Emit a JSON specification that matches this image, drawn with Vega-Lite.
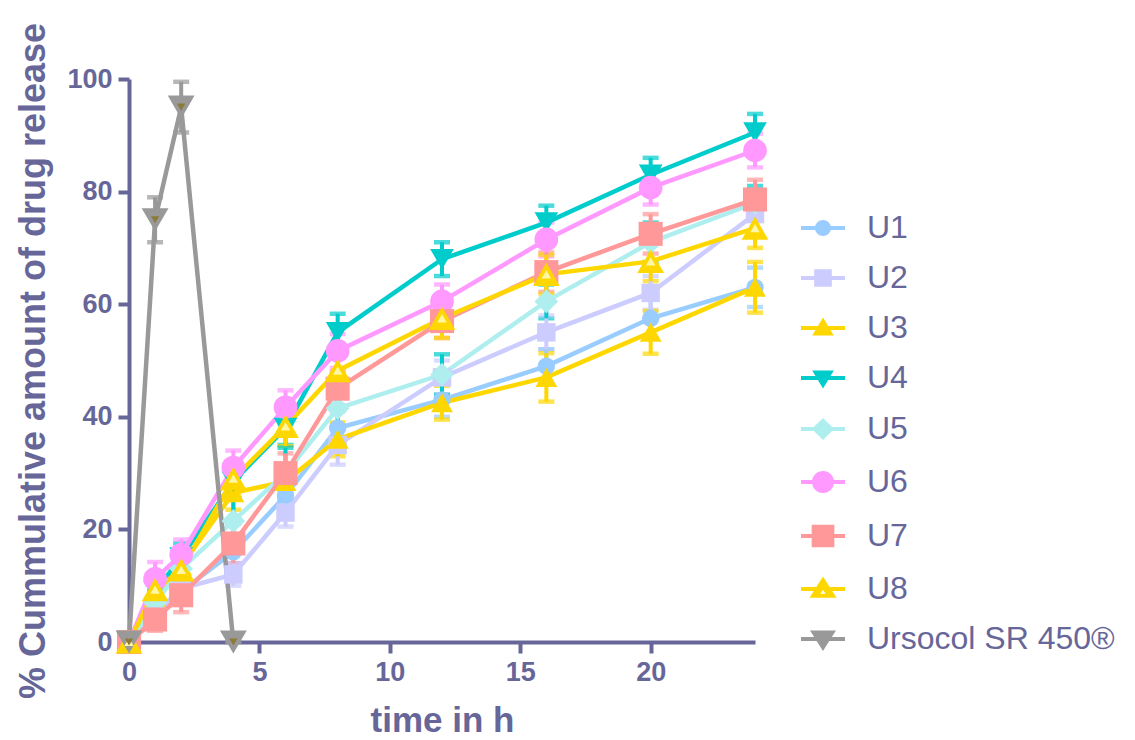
{
  "$schema": "https://vega.github.io/schema/vega-lite/v6.json",
  "width": 626,
  "height": 563,
  "autosize": {"type": "none"},
  "padding": {"left": 129, "top": 79, "right": 380, "bottom": 98},
  "background": "white",
  "config": {"view": {"stroke": null}, "font": "Liberation Sans"},
  "data": {"values": [
    {"series":"U1","t":0,"y":0,"sd":0},{"series":"U1","t":1,"y":4,"sd":1},{"series":"U1","t":2,"y":9,"sd":1.5},{"series":"U1","t":4,"y":16,"sd":2},{"series":"U1","t":6,"y":26,"sd":2.5},{"series":"U1","t":8,"y":38,"sd":3},{"series":"U1","t":12,"y":43,"sd":3},{"series":"U1","t":16,"y":49,"sd":3},{"series":"U1","t":20,"y":57.5,"sd":3.5},{"series":"U1","t":24,"y":63,"sd":3.5},
    {"series":"U2","t":0,"y":0,"sd":0},{"series":"U2","t":1,"y":5,"sd":1},{"series":"U2","t":2,"y":9.5,"sd":1.5},{"series":"U2","t":4,"y":12,"sd":2},{"series":"U2","t":6,"y":23,"sd":2.5},{"series":"U2","t":8,"y":35,"sd":3.5},{"series":"U2","t":12,"y":47,"sd":3},{"series":"U2","t":16,"y":55,"sd":3},{"series":"U2","t":20,"y":62,"sd":3},{"series":"U2","t":24,"y":76,"sd":3},
    {"series":"U3","t":0,"y":0,"sd":0},{"series":"U3","t":1,"y":8,"sd":2},{"series":"U3","t":2,"y":13.5,"sd":2},{"series":"U3","t":4,"y":26.5,"sd":3},{"series":"U3","t":6,"y":28.5,"sd":3},{"series":"U3","t":8,"y":36,"sd":3},{"series":"U3","t":12,"y":42.5,"sd":3},{"series":"U3","t":16,"y":47,"sd":4.3},{"series":"U3","t":20,"y":55,"sd":3.8},{"series":"U3","t":24,"y":63,"sd":4.5},
    {"series":"U4","t":0,"y":0,"sd":0},{"series":"U4","t":1,"y":9,"sd":2},{"series":"U4","t":2,"y":15,"sd":2.5},{"series":"U4","t":4,"y":28.5,"sd":3},{"series":"U4","t":6,"y":38,"sd":3},{"series":"U4","t":8,"y":55,"sd":3.3},{"series":"U4","t":12,"y":68,"sd":3},{"series":"U4","t":16,"y":74.5,"sd":3},{"series":"U4","t":20,"y":83,"sd":3},{"series":"U4","t":24,"y":90.5,"sd":3.3},
    {"series":"U5","t":0,"y":0,"sd":0},{"series":"U5","t":1,"y":7,"sd":2},{"series":"U5","t":2,"y":13,"sd":2},{"series":"U5","t":4,"y":21.5,"sd":4},{"series":"U5","t":6,"y":30,"sd":4.5},{"series":"U5","t":8,"y":41.5,"sd":3.5},{"series":"U5","t":12,"y":47.5,"sd":3.6},{"series":"U5","t":16,"y":60.5,"sd":3},{"series":"U5","t":20,"y":71,"sd":3.5},{"series":"U5","t":24,"y":78,"sd":3},
    {"series":"U6","t":0,"y":0,"sd":0},{"series":"U6","t":1,"y":11.2,"sd":3},{"series":"U6","t":2,"y":15.5,"sd":2.7},{"series":"U6","t":4,"y":31,"sd":3},{"series":"U6","t":6,"y":41.7,"sd":3},{"series":"U6","t":8,"y":51.7,"sd":3},{"series":"U6","t":12,"y":60.5,"sd":3},{"series":"U6","t":16,"y":71.5,"sd":3},{"series":"U6","t":20,"y":80.7,"sd":3},{"series":"U6","t":24,"y":87.3,"sd":3},
    {"series":"U7","t":0,"y":0,"sd":0},{"series":"U7","t":1,"y":4,"sd":2},{"series":"U7","t":2,"y":8.3,"sd":3},{"series":"U7","t":4,"y":17.5,"sd":3.5},{"series":"U7","t":6,"y":30,"sd":3.5},{"series":"U7","t":8,"y":45,"sd":3},{"series":"U7","t":12,"y":57,"sd":3},{"series":"U7","t":16,"y":65.7,"sd":3.5},{"series":"U7","t":20,"y":72.5,"sd":3.5},{"series":"U7","t":24,"y":78.6,"sd":3.5},
    {"series":"U8","t":0,"y":0,"sd":0},{"series":"U8","t":1,"y":9.3,"sd":2.7},{"series":"U8","t":2,"y":12.8,"sd":2.7},{"series":"U8","t":4,"y":29,"sd":2.8},{"series":"U8","t":6,"y":38.3,"sd":3.5},{"series":"U8","t":8,"y":48.2,"sd":3},{"series":"U8","t":12,"y":57.5,"sd":3.5},{"series":"U8","t":16,"y":65.3,"sd":3.5},{"series":"U8","t":20,"y":67.6,"sd":3.5},{"series":"U8","t":24,"y":73.5,"sd":3.5},
    {"series":"Ursocol SR 450®","t":0,"y":0,"sd":0},{"series":"Ursocol SR 450®","t":1,"y":75,"sd":4},{"series":"Ursocol SR 450®","t":2,"y":95,"sd":4.5},{"series":"Ursocol SR 450®","t":4,"y":0,"sd":0}
  ]},
  "encoding": {
    "x": {"field": "t", "type": "quantitative", "scale": {"domain": [0, 24], "nice": false, "zero": false},
      "axis": {"title": "time in h", "values": [0, 5, 10, 15, 20], "grid": false, "labelFlush": false, "labelOverlap": false,
        "domainColor": "#666699", "domainWidth": 4, "tickColor": "#666699", "tickWidth": 4, "tickSize": 11,
        "labelFont": "Liberation Sans", "labelFontWeight": "bold", "labelFontSize": 27, "labelColor": "#666699", "labelPadding": 6,
        "titleFont": "Liberation Sans", "titleFontSize": 35, "titleFontWeight": "bold", "titleColor": "#666699", "titlePadding": 18}},
    "y": {"field": "y", "type": "quantitative", "scale": {"domain": [0, 100], "nice": false},
      "axis": {"title": "% Cummulative amount of drug release", "values": [0, 20, 40, 60, 80, 100], "grid": false, "labelFlush": false, "labelOverlap": false,
        "domainColor": "#666699", "domainWidth": 4, "tickColor": "#666699", "tickWidth": 4, "tickSize": 11,
        "labelFont": "Liberation Sans", "labelFontWeight": "bold", "labelFontSize": 27, "labelColor": "#666699", "labelPadding": 6,
        "titleFont": "Liberation Sans", "titleFontSize": 36, "titleFontWeight": "bold", "titleColor": "#666699", "titlePadding": 14}}
  },
  "layer": [
    {
      "mark": {"type": "errorbar", "ticks": {"thickness": 4.5}, "rule": {"strokeWidth": 4}, "thickness": 4.5, "size": 16},
      "encoding": {
        "y": {"field": "y", "type": "quantitative", "title": "% Cummulative amount of drug release"},
        "yError": {"field": "sd"},
        "color": {"condition": {"test": "datum.series === 'U5'", "value": "#00CCCC"}, "field": "series", "type": "nominal",
          "scale": {"domain": ["U1","U2","U3","U4","U5","U6","U7","U8","Ursocol SR 450®"], "range": ["#99CCFF","#CCCCFF","#FFD700","#00CCCC","#AEEEEE","#FF99FF","#FF9999","#FFD700","#999999"]}, "legend": null}
      }
    },
    {
      "mark": {"type": "line", "strokeWidth": 4.5},
      "encoding": {
        "color": {"field": "series", "type": "nominal", "legend": null}
      }
    },
    {
      "mark": {"type": "point", "filled": true, "opacity": 1},
      "encoding": {
        "color": {"field": "series", "type": "nominal", "legend": null},
        "shape": {"field": "series", "type": "nominal", "legend": null,
          "scale": {"domain": ["U1","U2","U3","U4","U5","U6","U7","U8","Ursocol SR 450®"], "range": ["circle","square","triangle-up","triangle-down","diamond","circle","square","triangle-up","triangle-down"]}},
        "size": {"field": "series", "type": "nominal", "legend": null,
          "scale": {"type": "ordinal", "domain": ["U1","U2","U3","U4","U5","U6","U7","U8","Ursocol SR 450®"], "range": [300, 340, 480, 560, 560, 560, 580, 720, 720]}}
      }
    },
    {
      "transform": [{"filter": {"field": "series", "equal": "U8"}}],
      "mark": {"type": "point", "filled": true, "opacity": 1, "shape": "triangle-up", "size": 90, "color": "#FFF6A6"}
    },
    {
      "transform": [{"filter": {"field": "series", "equal": "Ursocol SR 450®"}}],
      "mark": {"type": "point", "filled": true, "opacity": 1, "shape": "triangle-down", "size": 70, "color": "#8B7B3A"}
    },
    {
      "mark": {"type": "point", "filled": true, "opacity": 0},
      "encoding": {
        "fill": {"field": "series", "type": "nominal",
          "scale": {"domain": ["U1","U2","U3","U4","U5","U6","U7","U8","Ursocol SR 450®"], "range": ["#99CCFF","#CCCCFF","#FFD700","#00CCCC","#AEEEEE","#FF99FF","#FF9999","#FFD700","#999999"]},
          "legend": {"title": null, "orient": "none", "legendX": 678, "legendY": 133, "padding": 0,
            "symbolSize": 484, "symbolStrokeWidth": 4, "symbolOpacity": 1,
            "labelFont": "Liberation Sans", "labelFontSize": 32, "labelColor": "#666699", "labelOffset": 28, "rowPadding": 18, "labelLimit": 400}},
        "stroke": {"field": "series", "type": "nominal",
          "scale": {"domain": ["U1","U2","U3","U4","U5","U6","U7","U8","Ursocol SR 450®"], "range": ["#99CCFF","#CCCCFF","#FFD700","#00CCCC","#AEEEEE","#FF99FF","#FF9999","#FFD700","#999999"]},
          "legend": {"title": null, "orient": "none", "legendX": 678, "legendY": 133, "padding": 0,
            "symbolSize": 484, "symbolStrokeWidth": 4, "symbolOpacity": 1,
            "labelFont": "Liberation Sans", "labelFontSize": 32, "labelColor": "#666699", "labelOffset": 28, "rowPadding": 18, "labelLimit": 400}},
        "shape": {"field": "series", "type": "nominal",
          "scale": {"domain": ["U1","U2","U3","U4","U5","U6","U7","U8","Ursocol SR 450®"],
            "range": [
              "M-2,0H2M0.55,0A0.55,0.55,0,1,1,-0.55,0A0.55,0.55,0,1,1,0.55,0Z",
              "M-2,0H2M-0.62,-0.62H0.62V0.62H-0.62Z",
              "M-2,0H2M0,-0.6L0.66,0.5H-0.66Z",
              "M-2,0H2M0,0.6L0.66,-0.5H-0.66Z",
              "M-2,0H2M-0.75,0L0,-0.75L0.75,0L0,0.75Z",
              "M-2,0H2M0.82,0A0.82,0.82,0,1,1,-0.82,0A0.82,0.82,0,1,1,0.82,0Z",
              "M-2,0H2M-0.85,-0.85H0.85V0.85H-0.85Z",
              "M-2,0H-0.5M0.5,0H2M0,-0.8L0.9,0.62H-0.9ZM0,-0.22L-0.6,0.62H0.6Z",
              "M-2,0H2M0,0.75L0.85,-0.6H-0.85Z"
            ]},
          "legend": {"title": null, "orient": "none", "legendX": 678, "legendY": 133, "padding": 0,
            "symbolSize": 484, "symbolStrokeWidth": 4, "symbolOpacity": 1,
            "labelFont": "Liberation Sans", "labelFontSize": 32, "labelColor": "#666699", "labelOffset": 28, "rowPadding": 18, "labelLimit": 400}}
      }
    }
  ],
  "resolve": {"scale": {"shape": "independent", "size": "independent", "fill": "independent", "stroke": "independent"}}
}
